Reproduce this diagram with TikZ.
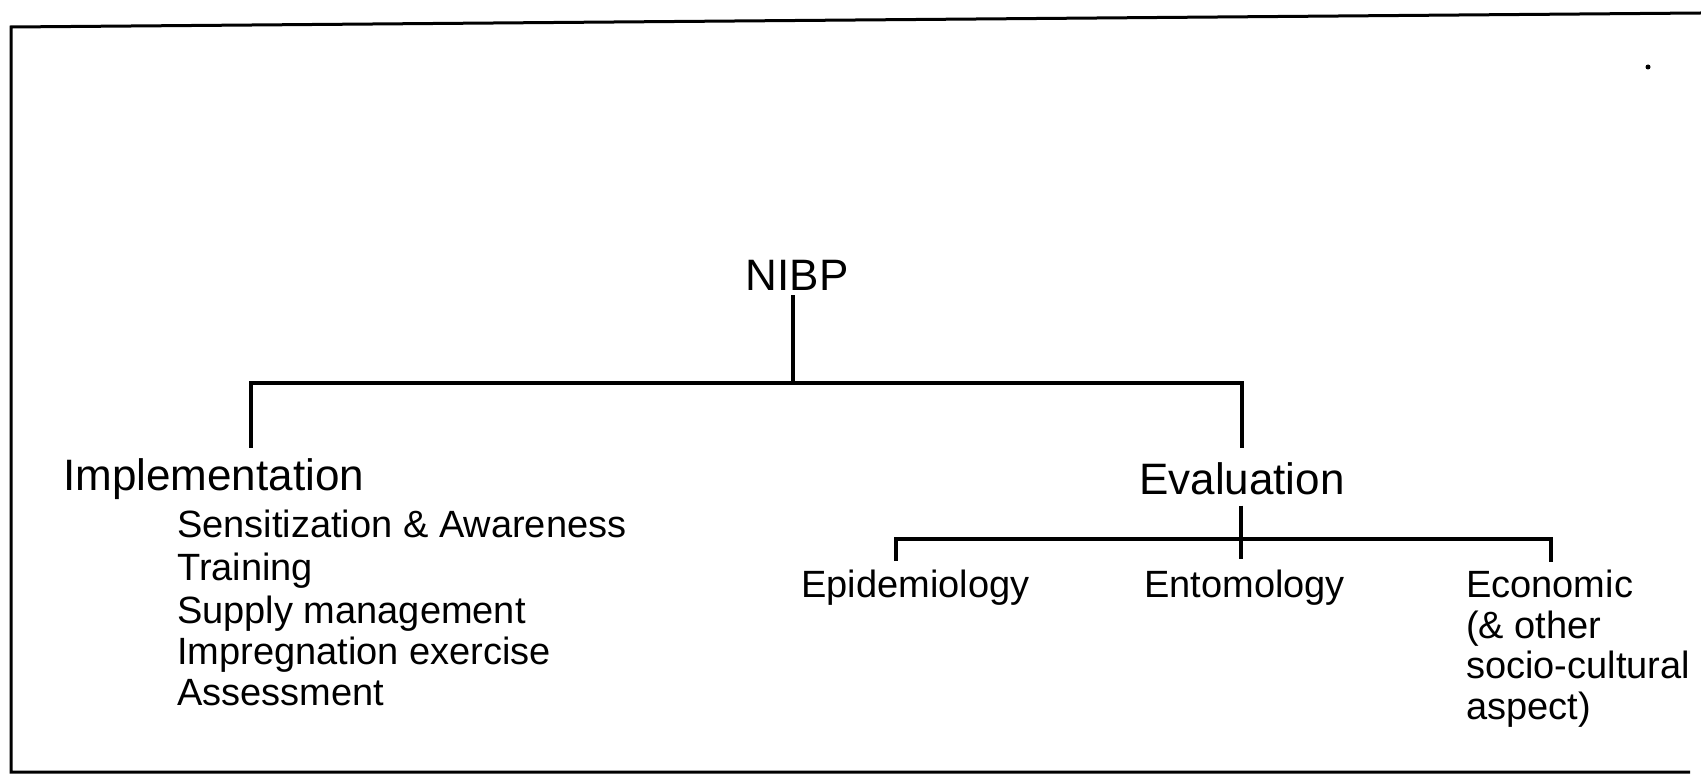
\documentclass[tikz,border=0pt]{standalone}
\usepackage{fontspec}
\setmainfont{Liberation Sans}
\begin{document}
\begin{tikzpicture}[x=1pt,y=-1pt,
  big/.style={font=\fontsize{44pt}{50pt}\selectfont, inner sep=0pt},
  sub/.style={font=\fontsize{38pt}{42pt}\selectfont, inner sep=0pt, anchor=base west},
  conn/.style={line width=3.4pt},
  frame/.style={line width=3pt}]
\useasboundingbox (0,0) rectangle (1701,775);
% frame
\draw[frame] (1701,13) -- (11,27) -- (11,772) -- (1690,772);
\fill (1648,67) circle (2.5);
% nodes
\node[big, anchor=base] (nibp) at (797,291) {NIBP};
\node[big, anchor=base west] (impl) at (63,491) {Implementation};
\node[big, anchor=base west] (eval) at (1139,495) {Evaluation};
\node[sub] (s1) at (177,537) {Sensitization \& Awareness};
\node[sub] (s2) at (177,580) {Training};
\node[sub] (s3) at (177,623) {Supply management};
\node[sub] (s4) at (177,664) {Impregnation exercise};
\node[sub] (s5) at (177,705) {Assessment};
\node[sub] (epi) at (801,597) {Epidemiology};
\node[sub] (ent) at (1144,597) {Entomology};
\node[sub] (eco1) at (1466,597) {Economic};
\node[sub] (eco2) at (1466,638) {(\& other};
\node[sub] (eco3) at (1466,678) {socio-cultural};
\node[sub] (eco4) at (1466,719) {aspect)};
% junctions
\coordinate (bM) at (793,383);
\coordinate (iT) at (251,448);
\coordinate (bR) at (1242,383);
\coordinate (eT) at (1242,448);
\coordinate (cM) at (1241,539);
\coordinate (cB) at (1241,559);
\coordinate (pT) at (896,561);
\coordinate (cR) at (1551,539);
\coordinate (oT) at (1551,562);
% connectors
\draw[conn] (nibp.south -| bM) ++(0,4) -- (bM);
\draw[conn] (iT) |- (bR) -- (eT);
\draw[conn] (eval.south -| cM) ++(0,10) -- (cB);
\draw[conn] (pT) |- (cR) -- (oT);
\end{tikzpicture}
\end{document}
